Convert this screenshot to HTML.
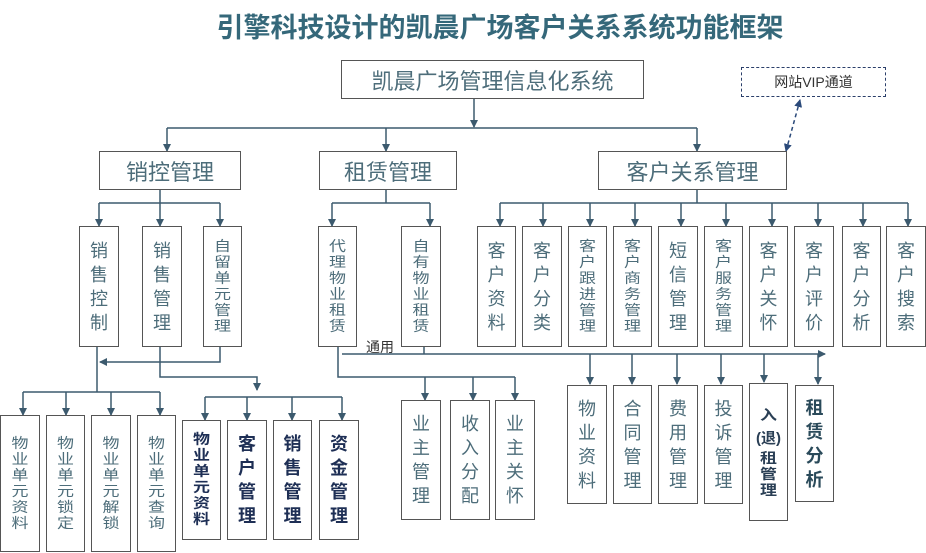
<!DOCTYPE html>
<html><head><meta charset="utf-8">
<style>
body{margin:0;width:926px;height:553px;background:#fff;position:relative;overflow:hidden;font-family:"Liberation Sans","Noto Sans CJK SC",sans-serif;color:#4d6d7a}
.b{position:absolute;border:1.5px solid #555;box-sizing:border-box;display:flex;flex-direction:column;align-items:center;justify-content:center;font-size:18px;background:#fff}
.b span{display:block;text-align:center}
.c span{font-size:17px;height:16px;line-height:16px;transform:scaleY(0.82);transform-origin:center}
.h{position:absolute;border:1.5px solid #555;box-sizing:border-box;display:flex;align-items:center;justify-content:center;font-size:22px;background:#fff}
.bold{font-weight:bold;color:#1e2f55}
.t{position:absolute;left:0;width:1000px;top:6px;text-align:center;font-size:27px;font-weight:bold;color:#35687a}
svg{position:absolute;left:0;top:0}
</style></head><body>
<div class="t">引擎科技设计的凯晨广场客户关系系统功能框架</div>
<svg width="926" height="553">
<defs><marker id="a" markerWidth="8" markerHeight="8" refX="7" refY="4" orient="auto" markerUnits="userSpaceOnUse"><path d="M0,0 L8,4 L0,8 z" fill="#3c5a6e"/></marker>
<marker id="as" markerWidth="8" markerHeight="8" refX="1" refY="4" orient="auto" markerUnits="userSpaceOnUse"><path d="M8,0 L0,4 L8,8 z" fill="#2b4a7a"/></marker>
<marker id="ae" markerWidth="8" markerHeight="8" refX="7" refY="4" orient="auto" markerUnits="userSpaceOnUse"><path d="M0,0 L8,4 L0,8 z" fill="#2b4a7a"/></marker></defs>
<g stroke="#3c5a6e" stroke-width="1.5" fill="none">
<line x1="474" y1="99" x2="474" y2="127" marker-end="url(#a)"/>
<line x1="167" y1="128" x2="697" y2="128"/>
<line x1="167" y1="128" x2="167" y2="151" marker-end="url(#a)"/>
<line x1="386" y1="128" x2="386" y2="151" marker-end="url(#a)"/>
<line x1="697" y1="128" x2="697" y2="151" marker-end="url(#a)"/>
<line x1="160" y1="190" x2="160" y2="203"/>
<line x1="99" y1="203" x2="220" y2="203"/>
<line x1="99" y1="203" x2="99" y2="226" marker-end="url(#a)"/>
<line x1="160" y1="203" x2="160" y2="226" marker-end="url(#a)"/>
<line x1="220" y1="203" x2="220" y2="226" marker-end="url(#a)"/>
<polyline points="220,347 220,362 100,362" marker-end="url(#a)"/>
<line x1="97" y1="347" x2="97" y2="392"/>
<line x1="23" y1="392" x2="160" y2="392"/>
<line x1="23" y1="392" x2="23" y2="415" marker-end="url(#a)"/>
<line x1="66" y1="392" x2="66" y2="415" marker-end="url(#a)"/>
<line x1="111" y1="392" x2="111" y2="415" marker-end="url(#a)"/>
<line x1="160" y1="392" x2="160" y2="415" marker-end="url(#a)"/>
<polyline points="160,347 160,377 257,377 257,390" marker-end="url(#a)"/>
<line x1="205" y1="397" x2="342" y2="397"/>
<line x1="205" y1="397" x2="205" y2="420" marker-end="url(#a)"/>
<line x1="247" y1="397" x2="247" y2="420" marker-end="url(#a)"/>
<line x1="292" y1="397" x2="292" y2="420" marker-end="url(#a)"/>
<line x1="342" y1="397" x2="342" y2="420" marker-end="url(#a)"/>
<line x1="386" y1="190" x2="386" y2="203"/>
<line x1="332" y1="203" x2="430" y2="203"/>
<line x1="332" y1="203" x2="332" y2="226" marker-end="url(#a)"/>
<line x1="430" y1="203" x2="430" y2="226" marker-end="url(#a)"/>
<line x1="342" y1="354" x2="825" y2="354" marker-end="url(#a)"/>
<line x1="424" y1="347" x2="424" y2="354"/>
<polyline points="338,347 338,377 515,377"/>
<line x1="425" y1="377" x2="425" y2="400" marker-end="url(#a)"/>
<line x1="473" y1="377" x2="473" y2="400" marker-end="url(#a)"/>
<line x1="515" y1="377" x2="515" y2="400" marker-end="url(#a)"/>
<line x1="590" y1="354" x2="590" y2="384" marker-end="url(#a)"/>
<line x1="632" y1="354" x2="632" y2="384" marker-end="url(#a)"/>
<line x1="677" y1="354" x2="677" y2="384" marker-end="url(#a)"/>
<line x1="721" y1="354" x2="721" y2="384" marker-end="url(#a)"/>
<line x1="764" y1="354" x2="764" y2="382" marker-end="url(#a)"/>
<line x1="818" y1="354" x2="818" y2="384" marker-end="url(#a)"/>
<line x1="697" y1="190" x2="697" y2="203"/>
<line x1="500" y1="203" x2="908" y2="203"/>
<line x1="500" y1="203" x2="500" y2="226" marker-end="url(#a)"/>
<line x1="543" y1="203" x2="543" y2="226" marker-end="url(#a)"/>
<line x1="590" y1="203" x2="590" y2="226" marker-end="url(#a)"/>
<line x1="635" y1="203" x2="635" y2="226" marker-end="url(#a)"/>
<line x1="681" y1="203" x2="681" y2="226" marker-end="url(#a)"/>
<line x1="726" y1="203" x2="726" y2="226" marker-end="url(#a)"/>
<line x1="772" y1="203" x2="772" y2="226" marker-end="url(#a)"/>
<line x1="818" y1="203" x2="818" y2="226" marker-end="url(#a)"/>
<line x1="863" y1="203" x2="863" y2="226" marker-end="url(#a)"/>
<line x1="908" y1="203" x2="908" y2="226" marker-end="url(#a)"/>
</g>
<line x1="786" y1="151" x2="800" y2="100" stroke="#2b4a7a" stroke-width="1.5" stroke-dasharray="4,3" marker-start="url(#as)" marker-end="url(#ae)"/>
<text x="366" y="352" font-size="14" fill="#333" font-family="Liberation Sans, Noto Sans CJK SC, sans-serif">通用</text>
</svg>
<div class="h" style="left:341px;top:60px;width:303px;height:39px;">凯晨广场管理信息化系统</div>
<div class="h" style="left:741px;top:67px;width:145px;height:30px;font-size:14px;border:1.5px dashed #2b3f6a;color:#333">网站VIP通道</div>
<div class="h" style="left:99px;top:151px;width:142px;height:39px;">销控管理</div>
<div class="h" style="left:319px;top:151px;width:138px;height:39px;">租赁管理</div>
<div class="h" style="left:598px;top:151px;width:189px;height:39px;">客户关系管理</div>

<div class="b" style="left:79px;top:226px;width:40px;height:121px;line-height:24px"><span>销</span><span>售</span><span>控</span><span>制</span></div>
<div class="b" style="left:142px;top:226px;width:40px;height:121px;line-height:24px"><span>销</span><span>售</span><span>管</span><span>理</span></div>
<div class="b c" style="left:203px;top:226px;width:39px;height:121px"><span>自</span><span>留</span><span>单</span><span>元</span><span>管</span><span>理</span></div>
<div class="b c" style="left:318px;top:226px;width:39px;height:121px"><span>代</span><span>理</span><span>物</span><span>业</span><span>租</span><span>赁</span></div>
<div class="b c" style="left:401px;top:226px;width:40px;height:121px"><span>自</span><span>有</span><span>物</span><span>业</span><span>租</span><span>赁</span></div>

<div class="b" style="left:477px;top:226px;width:39px;height:121px;line-height:24px"><span>客</span><span>户</span><span>资</span><span>料</span></div>
<div class="b" style="left:522px;top:226px;width:40px;height:121px;line-height:24px"><span>客</span><span>户</span><span>分</span><span>类</span></div>
<div class="b c" style="left:568px;top:226px;width:39px;height:121px"><span>客</span><span>户</span><span>跟</span><span>进</span><span>管</span><span>理</span></div>
<div class="b c" style="left:613px;top:226px;width:39px;height:121px"><span>客</span><span>户</span><span>商</span><span>务</span><span>管</span><span>理</span></div>
<div class="b" style="left:658px;top:226px;width:40px;height:121px;line-height:24px"><span>短</span><span>信</span><span>管</span><span>理</span></div>
<div class="b c" style="left:704px;top:226px;width:39px;height:121px"><span>客</span><span>户</span><span>服</span><span>务</span><span>管</span><span>理</span></div>
<div class="b" style="left:749px;top:226px;width:39px;height:121px;line-height:24px"><span>客</span><span>户</span><span>关</span><span>怀</span></div>
<div class="b" style="left:794px;top:226px;width:40px;height:121px;line-height:24px"><span>客</span><span>户</span><span>评</span><span>价</span></div>
<div class="b" style="left:842px;top:226px;width:39px;height:121px;line-height:24px"><span>客</span><span>户</span><span>分</span><span>析</span></div>
<div class="b" style="left:886px;top:226px;width:40px;height:121px;line-height:24px"><span>客</span><span>户</span><span>搜</span><span>索</span></div>

<div class="b c" style="left:0px;top:415px;width:40px;height:137px"><span>物</span><span>业</span><span>单</span><span>元</span><span>资</span><span>料</span></div>
<div class="b c" style="left:46px;top:415px;width:39px;height:137px"><span>物</span><span>业</span><span>单</span><span>元</span><span>锁</span><span>定</span></div>
<div class="b c" style="left:91px;top:415px;width:40px;height:137px"><span>物</span><span>业</span><span>单</span><span>元</span><span>解</span><span>锁</span></div>
<div class="b c" style="left:137px;top:415px;width:39px;height:137px"><span>物</span><span>业</span><span>单</span><span>元</span><span>查</span><span>询</span></div>

<div class="b bold c" style="left:182px;top:420px;width:39px;height:120px"><span>物</span><span>业</span><span>单</span><span>元</span><span>资</span><span>料</span></div>
<div class="b bold" style="left:227px;top:420px;width:40px;height:120px;line-height:24px"><span>客</span><span>户</span><span>管</span><span>理</span></div>
<div class="b bold" style="left:273px;top:420px;width:39px;height:120px;line-height:24px"><span>销</span><span>售</span><span>管</span><span>理</span></div>
<div class="b bold" style="left:319px;top:420px;width:40px;height:120px;line-height:24px"><span>资</span><span>金</span><span>管</span><span>理</span></div>

<div class="b" style="left:401px;top:400px;width:40px;height:120px;line-height:24px"><span>业</span><span>主</span><span>管</span><span>理</span></div>
<div class="b" style="left:450px;top:400px;width:40px;height:120px;line-height:24px"><span>收</span><span>入</span><span>分</span><span>配</span></div>
<div class="b" style="left:495px;top:400px;width:40px;height:120px;line-height:24px"><span>业</span><span>主</span><span>关</span><span>怀</span></div>

<div class="b" style="left:567px;top:385px;width:40px;height:119px;line-height:24px"><span>物</span><span>业</span><span>资</span><span>料</span></div>
<div class="b" style="left:613px;top:385px;width:39px;height:119px;line-height:24px"><span>合</span><span>同</span><span>管</span><span>理</span></div>
<div class="b" style="left:658px;top:385px;width:40px;height:119px;line-height:24px"><span>费</span><span>用</span><span>管</span><span>理</span></div>
<div class="b" style="left:704px;top:385px;width:39px;height:119px;line-height:24px"><span>投</span><span>诉</span><span>管</span><span>理</span></div>
<div class="b bold c" style="left:749px;top:383px;width:39px;height:138px;color:#2a3f55"><span style="height:22px;line-height:22px">入</span><span style="height:24px;line-height:24px;transform:none;font-size:15px">(退)</span><span>租</span><span>管</span><span>理</span></div>
<div class="b bold" style="left:795px;top:385px;width:39px;height:117px;line-height:24px;color:#2a4a5a"><span>租</span><span>赁</span><span>分</span><span>析</span></div>
</body></html>
